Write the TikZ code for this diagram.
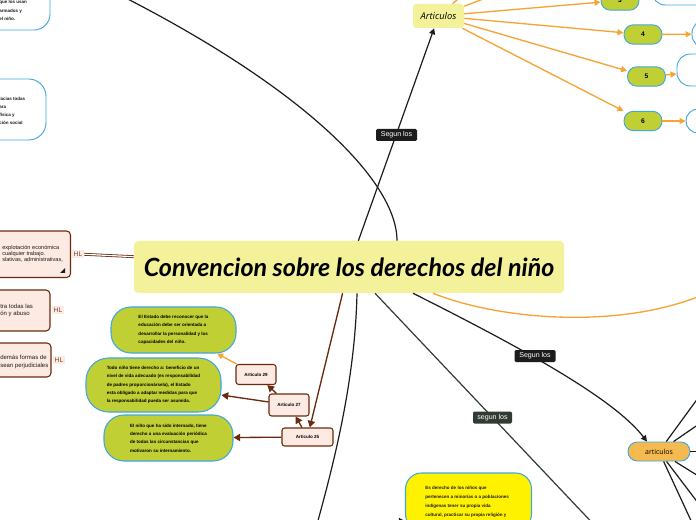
\documentclass[tikz,border=0pt]{standalone}
\usepackage{fontspec}
\setmainfont{Liberation Sans}
\newfontfamily\opensans{Open Sans}
\newfontfamily\titlefont{Lato}
\usetikzlibrary{arrows.meta}
\definecolor{ttl}{HTML}{F3F19A}
\definecolor{bgreen}{HTML}{C0CF33}
\definecolor{bblue}{HTML}{3FA8DF}
\definecolor{orng}{HTML}{F5A435}
\definecolor{brn}{HTML}{6B2A0D}
\definecolor{pnk}{HTML}{FDEAE2}
\definecolor{ofill}{HTML}{F4B94F}
\definecolor{ylw}{HTML}{FFF200}
\definecolor{lblack}{HTML}{1C1C1C}
\definecolor{lgray}{HTML}{323B33}
\definecolor{hltxt}{HTML}{6B4A3C}
\begin{document}
\begin{tikzpicture}[x=0.75pt,y=-0.75pt,
 otip/.style={-{Triangle[length=4.5pt,width=4.5pt]}},
 rtip/.style={-{Triangle[length=5pt,width=5.5pt]}},
 oline/.style={draw=orng,line width=1pt},
 bline/.style={draw=lblack,line width=0.9pt},
 rline/.style={draw=brn,line width=1pt},
 smalltxt/.style={font=\fontsize{3.4}{6.4}\selectfont\bfseries,align=left,inner sep=0pt,text=lblack},
 pill/.style={draw=bblue,line width=0.7pt,fill=bgreen,rounded corners=7pt,minimum width=28.5pt,minimum height=14.5pt,inner sep=0pt,font=\fontsize{5}{6}\selectfont\bfseries},
 rbox/.style={draw=bblue,line width=0.7pt,fill=white,rounded corners=10pt,minimum width=72pt,inner sep=0pt},
 bubble/.style={draw=bblue,line width=0.8pt,fill=bgreen,inner sep=0pt,font=\fontsize{3.4}{6.3}\selectfont\bfseries,align=left},
 artbox/.style={draw=brn,line width=0.8pt,fill=pnk,rounded corners=2pt,inner sep=0pt,font=\fontsize{3.4}{4}\selectfont\bfseries},
 pinkbox/.style={draw=brn,line width=0.8pt,fill=pnk,rounded corners=3pt,inner sep=0pt},
 ltxt/.style={align=left,inner sep=0pt,text=lblack},
 hl/.style={fill=pnk,text=hltxt,inner sep=1.2pt,font=\fontsize{5}{6}\selectfont},
 seg/.style={fill=lblack,text=white,rounded corners=1pt,minimum width=30.75pt,minimum height=9pt,inner sep=0pt,font=\fontsize{5.3}{6}\selectfont},
]
\useasboundingbox (0,0) rectangle (696,520);
\fill[white] (0,0) rectangle (696,520);
\clip (0,0) rectangle (696,520);

% main nodes
\node[fill=ttl,rounded corners=3pt,minimum width=322.5pt,minimum height=39pt,inner sep=0pt,
      font=\titlefont\bfseries\itshape\fontsize{18.8}{22}\selectfont] (title) at (349,267) {Convencion sobre los derechos del niño};
\node[fill=ttl,rounded corners=2.5pt,minimum width=38.25pt,minimum height=18pt,inner sep=0pt,
      font=\opensans\itshape\fontsize{7}{8}\selectfont] (arts) at (438.5,16) {Articulos};

\node[pill] (n3) at (620,0.5) {3};
\node[pill] (n4) at (643,34.5) {4};
\node[pill] (n5) at (646.5,76.5) {5};
\node[pill] (n6) at (643,121) {6};
\node[rbox,minimum height=22.5pt] (r3) at (700,-10) {};
\node[rbox,minimum height=21pt] (r4) at (740,34) {};
\node[rbox,minimum height=24pt] (r5) at (725,70) {};
\node[rbox,minimum height=18pt,rounded corners=9pt] (r6) at (734,121) {};
\coordinate (up1) at (480,-20);
\coordinate (up2) at (520,-15);

\draw[oline,otip] (arts) -- (n3);
\draw[oline,otip] (arts) -- (n4);
\draw[oline,otip] (arts) -- (n5);
\draw[oline,otip] (arts) -- (n6);
\draw[oline,otip] (arts) -- (up1);
\draw[oline,otip] (arts) -- (up2);
\draw[oline,otip] (n3) -- (r3);
\draw[oline,otip] (n4) -- (r4);
\draw[oline,otip] (n5) -- (r5);
\draw[oline,otip] (n6) -- (r6);

% orange articulos node
\node[draw=bblue,line width=0.7pt,fill=ofill,rounded corners=7pt,minimum width=46.5pt,minimum height=14.25pt,inner sep=0pt,
      font=\opensans\fontsize{5.2}{6}\selectfont] (arts2) at (659,451.5) {articulos};
\coordinate (ra) at (720,368);
\coordinate (rb) at (740,396);
\coordinate (rc) at (730,451.5);
\coordinate (rd) at (740,502);
\coordinate (re) at (730,545);
\coordinate (rf) at (700,540);
\foreach \c in {ra,rb,rc,rd,re,rf} \draw[bline] (arts2) -- (\c);

% green bubbles
\node[bubble,rounded corners=15pt,minimum width=93.75pt,minimum height=34.5pt] (bA) at (173.5,330)
 {El Estado debe reconocer que la\\educación debe ser orientada a\\desarrollar la personalidad y las\\capacidades del niño.};
\node[bubble,rounded corners=17pt,minimum width=101.25pt,minimum height=40.5pt] (bB) at (153.5,385)
 {Todo niño tiene derecho a: beneficio de un\\nivel de vida adecuado (es responsabilidad\\de padres proporcionársela), el Estado\\esta obligado a adaptar medidas para que\\la responsabilidad pueda ser asumida.};
\node[bubble,rounded corners=15pt,minimum width=96.75pt,minimum height=34.5pt] (bC) at (168.5,438)
 {El niño que ha sido internado, tiene\\derecho a una evaluación periódica\\de todas las circunstancias que\\motivaron su internamiento.};

\node[artbox,minimum width=30pt,minimum height=15pt] (a29) at (256,374.5) {Articulo 29};
\node[artbox,minimum width=30pt,minimum height=16.5pt] (a27) at (289,405) {Articulo 27};
\node[artbox,minimum width=38.25pt,minimum height=13.5pt] (a25) at (307.5,437) {Articulo 25};

\draw[oline,otip] (a29) -- (bA);
\draw[rline,rtip] (a27) -- (a29);
\draw[rline,rtip] (a27) -- (bB);
\draw[rline,rtip] (a25) -- (a27);
\draw[rline,rtip] (a25) -- (bC);
\draw[rline,rtip] (title) -- (a25);

% yellow bubble
\node[draw=bblue,line width=0.8pt,fill=ylw,rounded corners=12pt,minimum width=94.5pt,minimum height=42.75pt,inner sep=0pt] (ybub) at (468.5,501.5) {};
\node[smalltxt,font=\fontsize{3.4}{6.75}\selectfont\bfseries,anchor=west] (ytxt) at (425,501.5)
 {Es derecho de los niños que\\pertenecen a minorías o a poblaciones\\indígenas tener su propia vida\\cultural, practicar su propia religión y};
\coordinate (yin) at (360,521);
\draw[bline,otip] (yin) -- (yin -| ybub.west);

% top-left blue nodes
\node[rbox,minimum width=82.5pt,minimum height=45pt,rounded corners=12pt] (b1) at (-5,0) {};
\node[smalltxt,anchor=west] (b1t) at (-1,10.5) {que los usan\\armados y\\el niño.};
\node[rbox,minimum width=79.5pt,minimum height=45.75pt,rounded corners=13pt] (b2) at (-7,109.5) {};
\node[smalltxt,font=\fontsize{3.4}{6}\selectfont\bfseries,anchor=west] (b2t) at (-1,111) {lacias todas\\ara\\física y\\ción social};

% left pink nodes
\node[pinkbox,minimum width=82.9pt,minimum height=34.9pt] (l1) at (15.25,254.25) {};
\node[ltxt,font=\fontsize{4.2}{4.3}\selectfont,anchor=west] (l1t) at (2,254) {explotación económica\\cualquier trabajo.\\slativas, administrativas,};
\fill[lblack] (60,273) -- (65,273) -- (65,268) -- cycle;
\node[pinkbox,minimum width=67.5pt,minimum height=30.75pt] (l2) at (5,310.5) {};
\node[ltxt,font=\fontsize{4.5}{5.25}\selectfont,anchor=west] (l2t) at (0,310.5) {tra todas las\\ón y abuso};
\node[pinkbox,minimum width=68.25pt,minimum height=25.5pt] (l3) at (5.5,360) {};
\node[ltxt,font=\fontsize{4.5}{6}\selectfont,anchor=west] (l3t) at (0,361.5) {demás formas de\\sean perjudiciales};
\node[hl] (hl1) at (78,254) {HL};
\node[hl] (hl2) at (58,310) {HL};
\node[hl] (hl3) at (59,360) {HL};
\draw[draw=brn,line width=0.6pt,double=white,double distance=0.9pt] (hl1) -- (title);

% black / grey connectors from title
\draw[bline,otip] (title) -- (arts);
\coordinate (tl) at (110,-10);
\draw[bline] ([xshift=36pt]title.north) .. controls (397,180) and (300,85) .. (tl);
\draw[bline,otip] ([xshift=48pt]title.south) .. controls (530,352) and (615,400) .. ([xshift=-9pt]arts2.north);
\coordinate (rorange) at (705,294);
\draw[oline] ([xshift=63pt]title.south) .. controls (500,320) and (620,330) .. (rorange);
\coordinate (gend) at (600,531);
\draw[draw=lgray,line width=0.9pt] ([xshift=19.5pt]title.south) -- (gend);
\coordinate (bl) at (314,535);
\draw[bline] ([xshift=6pt]title.south) .. controls (355,380) and (335,460) .. (bl);

% labels on connectors
\node[seg] (s1) at (396.5,135) {Segun los};
\node[seg] (s2) at (535,356) {Segun los};
\node[seg,fill=lgray,minimum width=29.25pt] (s3) at (492.5,417.5) {segun los};
\end{tikzpicture}
\end{document}
